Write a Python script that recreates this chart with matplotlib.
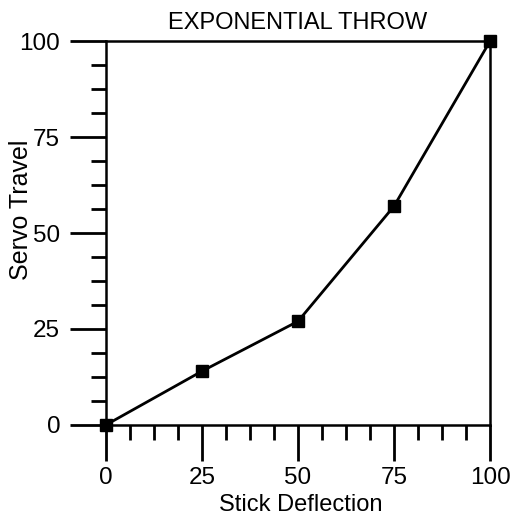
import matplotlib
matplotlib.use('Agg')
import matplotlib.pyplot as plt
from matplotlib.ticker import MultipleLocator

plt.rcParams['font.family'] = ['Liberation Sans', 'DejaVu Sans']

# Stick deflection vs servo travel for the exponential throw setting
stick = [0, 25, 50, 75, 100]
servo = [0, 14, 27, 57, 100]
major_ticks = [0, 25, 50, 75, 100]

fig = plt.figure(figsize=(5.21, 5.15), dpi=100)
ax = fig.add_axes([0.2035, 0.175, 0.737, 0.745])

ax.plot(stick, servo, color='black', linewidth=2.0, marker='s',
        markersize=8.5, clip_on=False, zorder=5)

ax.set_xlim(0, 100)
ax.set_ylim(0, 100)
ax.set_xticks(major_ticks)
ax.set_yticks(major_ticks)
ax.xaxis.set_minor_locator(MultipleLocator(6.25))
ax.yaxis.set_minor_locator(MultipleLocator(6.25))
ax.tick_params(which='major', direction='out', length=26, width=2,
               labelsize=17.5)
ax.tick_params(axis='x', which='major', pad=4)
ax.tick_params(axis='y', which='major', pad=7)
ax.tick_params(which='minor', direction='out', length=11, width=2)

for s in ax.spines.values():
    s.set_linewidth(1.8)

ax.set_title('EXPONENTIAL THROW', fontsize=17, pad=9)
ax.set_xlabel('Stick Deflection', fontsize=17)
ax.set_ylabel('Servo Travel', fontsize=18)
ax.xaxis.set_label_coords(0.508, -0.18)
ax.yaxis.set_label_coords(-0.19, 0.56)

plt.savefig('out.png', dpi=100)
plt.close()
